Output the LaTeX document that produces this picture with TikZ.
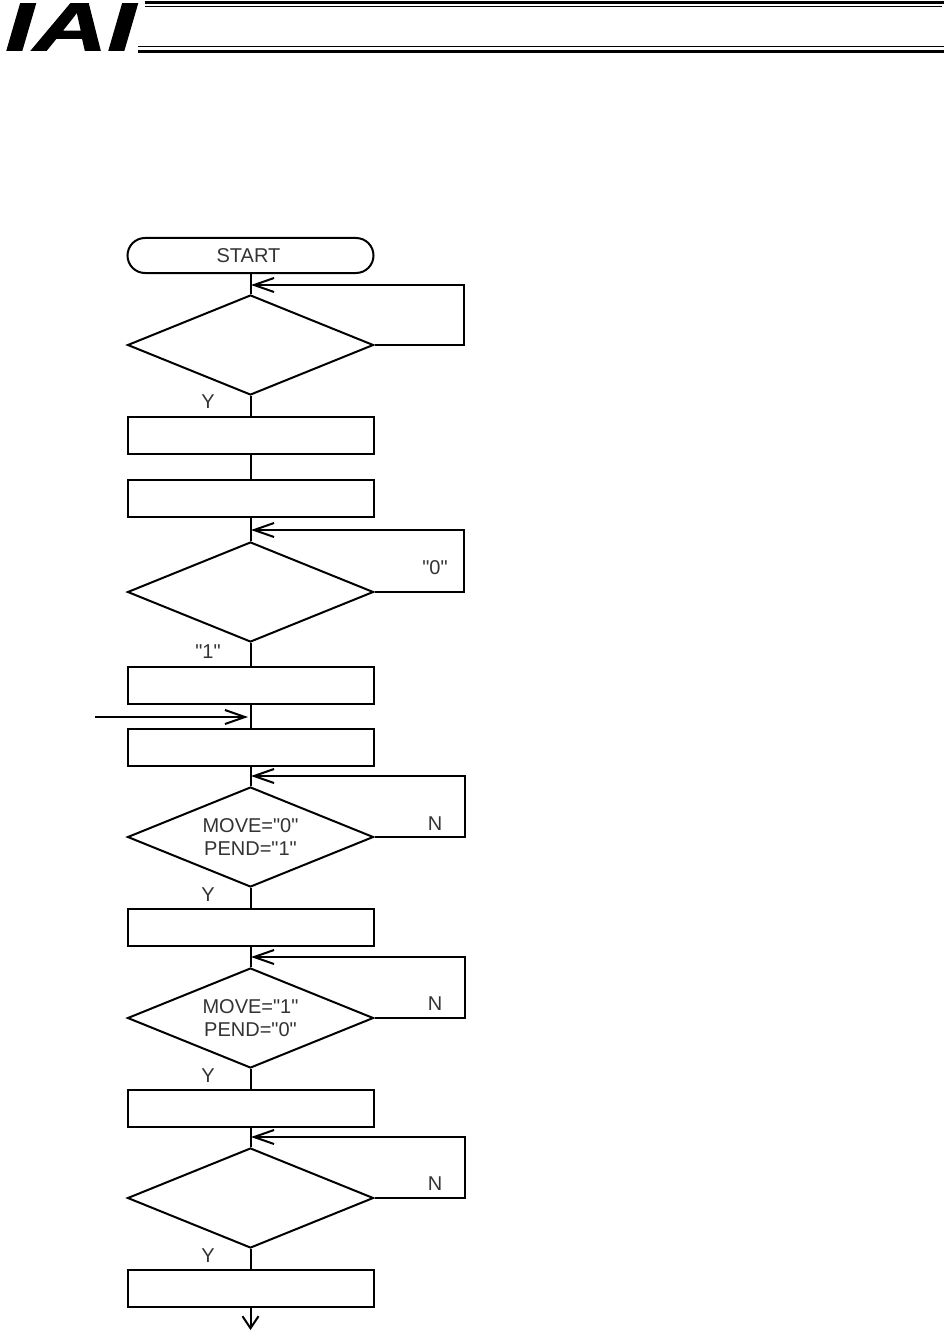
\documentclass[tikz,border=0pt]{standalone}
\usepackage{fontspec}
\setmainfont[Ligatures=TeXOff]{Liberation Sans}
\newfontfamily\logofont[FakeBold=1.4]{Liberation Sans}
\usetikzlibrary{arrows.meta,shapes.geometric}
\tikzset{%
  stepbox/.style  = {shape=rectangle, draw, line width=1pt, minimum width=123pt, minimum height=18.5pt, inner sep=0pt},%
  startbox/.style = {stepbox, rounded corners=8.75pt, minimum height=17.5pt, text=black!80},%
  test/.style     = {shape=diamond, draw, line width=1pt, aspect=2.46, minimum width=123pt, minimum height=50pt, inner sep=0pt, align=center, text=black!80},%
  flow/.style     = {line width=1pt},%
  loopback/.style = {flow, -{Straight Barb[length=10pt,width=7pt]}},%
  outlet/.style   = {flow, -{Straight Barb[length=6pt,width=8pt]}},%
  lab/.style      = {font=\fontsize{10}{11.5}\selectfont, text=black!80, inner sep=0pt},%
  rulethick/.style = {line width=1.35pt},%
  rulethin/.style  = {line width=0.7pt}%
}
\begin{document}
\begin{tikzpicture}[x=0.5pt,y=-0.5pt, every node/.style = {font=\fontsize{10}{11.5}\selectfont}]%
	\useasboundingbox (0,0) rectangle (944,1337);
	% header
	\node [inner sep=0pt, xscale=1.5, transform shape, font=\fontsize{34}{34}\logofont\bfseries\itshape] (logo) at (70.5,27) {IAI};%
	\coordinate (topa) at (145,2.2);
	\coordinate (topb) at (944,2.2);
	\coordinate (topc) at (145,6.5);
	\coordinate (topd) at (942,6.5);
	\coordinate (bota) at (138,46.6);
	\coordinate (botb) at (944,46.6);
	\coordinate (botc) at (138,51.3);
	\coordinate (botd) at (944,51.3);
	\draw [rulethick] (topa) -- (topb);
	\draw [rulethin] (topc) -- (topd);
	\draw [rulethin] (bota) -- (botb);
	\draw [rulethick] (botc) -- (botd);
	% flow
	\node [startbox] (start) at (250.5,255.5) {START\hspace*{2pt}};%
	\node [test] (wait1) at (250.5,345) {};%
	\node [stepbox] (box1) at (250.5,435.5) {};%
	\node [stepbox] (box2) at (250.5,498) {};%
	\node [test] (wait2) at (250.5,592) {};%
	\node [stepbox] (box3) at (250.5,685.5) {};%
	\node [stepbox] (box4) at (250.5,747) {};%
	\node [test] (wait3) at (250.5,837) {MOVE="0"\\PEND="1"};%
	\node [stepbox] (box5) at (250.5,927.5) {};%
	\node [test] (wait4) at (250.5,1018) {MOVE="1"\\PEND="0"};%
	\node [stepbox] (box6) at (250.5,1108.5) {};%
	\node [test] (wait5) at (250.5,1198) {};%
	\node [stepbox] (box7) at (250.5,1288.5) {};%
	% straight runs
	\draw [flow] (start) -- (wait1);
	\draw [flow] (wait1) -- (box1);
	\draw [flow] (box1) -- (box2);
	\draw [flow] (box2) -- (wait2);
	\draw [flow] (wait2) -- (box3);
	\draw [flow] (box3) -- (box4);
	\draw [flow] (box4) -- (wait3);
	\draw [flow] (wait3) -- (box5);
	\draw [flow] (box5) -- (wait4);
	\draw [flow] (wait4) -- (box6);
	\draw [flow] (box6) -- (wait5);
	\draw [flow] (wait5) -- (box7);
	% loops
	\coordinate (join1) at (251,285);
	\coordinate (join2) at (251,530);
	\coordinate (join3) at (251,776);
	\coordinate (join4) at (251,957);
	\coordinate (join5) at (251,1137);
	\draw [loopback] (wait1.east) -- (464,345) -- (464,285) -- (join1);
	\draw [loopback] (wait2.east) -- (464,592) -- (464,530) -- (join2);
	\draw [loopback] (wait3.east) -- (465,837) -- (465,776) -- (join3);
	\draw [loopback] (wait4.east) -- (465,1018) -- (465,957) -- (join4);
	\draw [loopback] (wait5.east) -- (465,1198) -- (465,1137) -- (join5);
	% free ends
	\coordinate (infrom) at (95,717);
	\coordinate (into) at (248,717);
	\coordinate (outto) at (250.5,1330);
	\draw [loopback] (infrom) -- (into);
	\draw [outlet] (box7) -- (outto);
	% labels
	\node [lab] (y1) at (208,402) {Y};%
	\node [lab] (zero) at (435,567.5) {"0"};%
	\node [lab] (one) at (208,652) {"1"};%
	\node [lab] (n3) at (435,823.5) {N};%
	\node [lab] (y3) at (208,894.5) {Y};%
	\node [lab] (n4) at (435,1004) {N};%
	\node [lab] (y4) at (208,1075.5) {Y};%
	\node [lab] (n5) at (435,1184) {N};%
	\node [lab] (y5) at (208,1255.5) {Y};%
\end{tikzpicture}
\end{document}
